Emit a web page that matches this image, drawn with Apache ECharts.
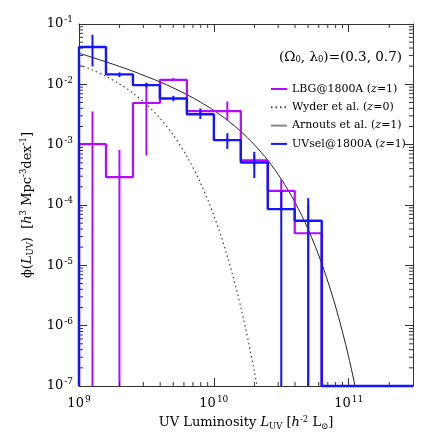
<!DOCTYPE html>
<html>
<head>
<meta charset="utf-8">
<script src="https://cdn.jsdelivr.net/npm/echarts@6/dist/echarts.min.js"></script>
<style>
  html, body { margin: 0; padding: 0; background: #fff; }
  #main { width: 436px; height: 436px; }
</style>
</head>
<body>
<div id="main"></div>
<script>
// luminosity bins, 0.2 dex wide (h^-2 Lsun)
const binEdges = [1e9, 1.585e9, 2.512e9, 3.981e9, 6.310e9, 1e10, 1.585e10, 2.512e10, 3.981e10, 6.310e10];
const binCenters = [1.259e9, 1.995e9, 3.162e9, 5.012e9, 7.943e9, 1.259e10, 1.995e10, 3.162e10, 5.012e10];

// LBG@1800A (z=1)
const lbgPhi = [1.02e-3, 2.9e-4, 4.9e-3, 1.19e-2, 3.6e-3, 3.6e-3, 5.5e-4, 1.72e-4, 3.4e-5];
const lbgErrLow = [1e-9, 1e-9, 6.6e-4, 1.12e-2, 3.3e-3, 2.52e-3, 4.5e-4, 8e-5, 1e-9];
const lbgErrHigh = [3.56e-3, 8.2e-4, 1.05e-2, 1.27e-2, 4.0e-3, 5.2e-3, 6.6e-4, 2.69e-4, 1.0e-4];

// UVsel@1800A (z=1)
const uvPhi = [4.16e-2, 1.46e-2, 9.7e-3, 5.83e-3, 3.2e-3, 1.19e-3, 5.07e-4, 8.55e-5, 5.47e-5];
const uvErrLow = [1.98e-2, 1.32e-2, 8.9e-3, 5.25e-3, 2.66e-3, 8.5e-4, 2.8e-4, 1e-9, 1e-9];
const uvErrHigh = [6.65e-2, 1.58e-2, 1.06e-2, 6.45e-3, 3.89e-3, 1.55e-3, 7.6e-4, 1.73e-4, 1.3e-4];

// curves
const curveL = [1e9, 1.259e9, 1.585e9, 1.995e9, 2.512e9, 3.162e9, 3.981e9, 5.012e9, 6.310e9, 7.943e9,
  1e10, 1.259e10, 1.585e10, 1.995e10, 2.512e10, 3.162e10, 3.981e10, 5.012e10, 6.310e10, 7.943e10, 1e11, 1.259e11];
const arnoutsPhi = [3.28e-2, 2.79e-2, 2.36e-2, 1.98e-2, 1.65e-2, 1.35e-2, 1.10e-2, 8.71e-3, 6.76e-3, 5.09e-3,
  3.69e-3, 2.55e-3, 1.66e-3, 1.0e-3, 5.52e-4, 2.69e-4, 1.13e-4, 3.93e-5, 1.08e-5, 2.19e-6, 3.04e-7, 2.64e-8];
const wyderPhi = [2.11e-2, 1.73e-2, 1.36e-2, 1.02e-2, 7.16e-3, 4.66e-3, 2.75e-3, 1.44e-3, 6.41e-4, 2.35e-4,
  6.75e-5, 1.42e-5, 2.03e-6, 1.77e-7, 8.3e-9];

const xMin = 1e9, xMax = 3e11, yMin = 1e-7, yMax = 1e-1;

const blue = '#1414ff';
const magenta = '#b40aff';
const serif = 'DejaVu Serif';

// minor tick values (2..9 in each decade)
const xMinorTicks = [];
const yMinorTicks = [];
for (let d = 9; d <= 11; d++) for (let k = 2; k <= 9; k++) if (k * Math.pow(10, d) < xMax) xMinorTicks.push(k * Math.pow(10, d));
for (let d = -7; d <= -2; d++) for (let k = 2; k <= 9; k++) yMinorTicks.push(k * Math.pow(10, d));

function stepPath(values) {
  const pts = [[binEdges[0], yMin]];
  values.forEach((v, i) => {
    pts.push([binEdges[i], v], [binEdges[i + 1], v]);
  });
  pts.push([binEdges[binEdges.length - 1], yMin], [xMax, yMin]);
  return pts;
}

function errSeries(name, lo, hi, color, z) {
  return {
    type: 'custom', name: name, z: z, silent: true,
    encode: { x: 0, y: [1, 2] },
    data: binCenters.map((c, i) => [c, lo[i], hi[i]]),
    renderItem: function (params, api) {
      const r = params.coordSys;
      const top = api.coord([api.value(0), api.value(2)]);
      const bot = api.coord([api.value(0), api.value(1)]);
      return {
        type: 'line',
        shape: { x1: top[0], y1: Math.max(top[1], r.y), x2: top[0], y2: Math.min(bot[1], r.y + r.height) },
        style: { stroke: color, lineWidth: 2 }
      };
    }
  };
}

// only label whole decades
const expLabel = v => {
  const e = Math.log10(v);
  if (Math.abs(e - Math.round(e)) > 1e-6) return '';
  return '{b|10}{s|' + Math.round(e) + '}';
};
const labelRich = {
  b: { fontFamily: serif, fontSize: 13, color: '#000' },
  s: { fontFamily: serif, fontSize: 9, color: '#000', verticalAlign: 'top', padding: [0, 0, 8, 1] }
};
const nameRich = {
  n: { fontFamily: serif, fontSize: 13, color: '#000' },
  i: { fontFamily: serif, fontSize: 13, fontStyle: 'italic', color: '#000' },
  sub: { fontFamily: serif, fontSize: 8.5, color: '#000', verticalAlign: 'bottom', padding: [6, 0, 0, 0] },
  sup: { fontFamily: serif, fontSize: 8.5, color: '#000', verticalAlign: 'top', padding: [0, 0, 7, 0] }
};

const axisCommon = {
  type: 'log', logBase: 10,
  axisLine: { show: true, lineStyle: { color: '#333', width: 1 } },
  axisTick: { show: true, inside: true, length: 8, lineStyle: { color: '#333' } },
  splitLine: { show: false },
  minorTick: { show: false }
};

const myChart = echarts.init(document.getElementById('main'));
const option = {
  animation: false,
  backgroundColor: '#fff',
  grid: { left: 79, right: 23, top: 24, bottom: 50 },
  xAxis: [
    Object.assign({}, axisCommon, {
      min: xMin, max: xMax, position: 'bottom',
      axisLabel: { margin: 9, formatter: expLabel, rich: labelRich, showMaxLabel: false },
      name: '{n|UV Luminosity }{i|L}{sub|UV}{n| [}{i|h}{sup|-2}{n| L}{sub|⊙}{n|]}',
      nameLocation: 'middle', nameGap: 29,
      nameTextStyle: { rich: nameRich }
    }),
    Object.assign({}, axisCommon, { min: xMin, max: xMax, position: 'top', axisLabel: { show: false } })
  ],
  yAxis: [
    Object.assign({}, axisCommon, {
      min: yMin, max: yMax, position: 'left',
      axisLabel: { margin: 6, formatter: expLabel, rich: labelRich },
      name: '{n|ϕ(}{i|L}{sub|UV}{n|)  [}{i|h}{sup|3}{n| Mpc}{sup|-3}{n|dex}{sup|-1}{n|]}',
      nameLocation: 'middle', nameGap: 42,
      nameTextStyle: { rich: nameRich }
    }),
    Object.assign({}, axisCommon, { min: yMin, max: yMax, position: 'right', axisLabel: { show: false } })
  ],
  legend: {
    orient: 'vertical', left: 265, top: 78,
    itemWidth: 16, itemHeight: 12, itemGap: 6.3,
    selectedMode: false,
    itemStyle: { opacity: 0 },
    data: [
      { name: 'LBG@1800A (z=1)' },
      { name: 'Wyder et al. (z=0)' },
      { name: 'Arnouts et al. (z=1)', lineStyle: { color: '#888', width: 2 } },
      { name: 'UVsel@1800A (z=1)' }
    ],
    formatter: n => n.replace('(z', '({i|z}'),
    textStyle: {
      fontFamily: serif, fontSize: 11, lineHeight: 12, color: '#000',
      rich: { i: { fontFamily: serif, fontSize: 11, fontStyle: 'italic', color: '#000' } }
    }
  },
  graphic: [{
    type: 'text', right: 34, top: 50,
    style: {
      text: '(Ω{sub|0}, λ{sub|0})=(0.3, 0.7)',
      fontFamily: serif, fontSize: 13.5, fill: '#000',
      rich: { sub: { fontFamily: serif, fontSize: 8.5, fill: '#000', verticalAlign: 'bottom', padding: [6, 0, 0, 0] } }
    }
  }],
  series: [
    {
      name: 'Wyder et al. (z=0)', type: 'line', symbol: 'none', clip: true, z: 2,
      data: wyderPhi.map((v, i) => [curveL[i], v]), smooth: 0.3,
      lineStyle: { color: '#444', width: 1.2, type: [1.5, 3] }
    },
    {
      name: 'Arnouts et al. (z=1)', type: 'line', symbol: 'none', clip: true, z: 2,
      data: arnoutsPhi.map((v, i) => [curveL[i], v]), smooth: 0.3,
      lineStyle: { color: '#222', width: 1 }
    },
    errSeries('lbg-err', lbgErrLow, lbgErrHigh, magenta, 3),
    {
      name: 'LBG@1800A (z=1)', type: 'line', symbol: 'none', clip: false, z: 3,
      data: stepPath(lbgPhi),
      lineStyle: { color: magenta, width: 2.2 }, itemStyle: { color: magenta }
    },
    {
      name: 'UVsel@1800A (z=1)', type: 'line', symbol: 'none', clip: false, z: 4,
      data: stepPath(uvPhi),
      lineStyle: { color: blue, width: 2.4 }, itemStyle: { color: blue }
    },
    errSeries('uv-err', uvErrLow, uvErrHigh, blue, 4),
    {
      type: 'custom', name: 'xminor', silent: true, z: 5,
      data: xMinorTicks.map(v => [v]),
      encode: { x: 0 },
      renderItem: function (params, api) {
        const r = params.coordSys;
        const x = api.coord([api.value(0), yMin])[0];
        return { type: 'group', children: [
          { type: 'line', shape: { x1: x, y1: r.y + r.height, x2: x, y2: r.y + r.height - 4 }, style: { stroke: '#333', lineWidth: 1 } },
          { type: 'line', shape: { x1: x, y1: r.y, x2: x, y2: r.y + 4 }, style: { stroke: '#333', lineWidth: 1 } }
        ] };
      }
    },
    {
      type: 'custom', name: 'yminor', silent: true, z: 5,
      data: yMinorTicks.map(v => [xMin, v]),
      encode: { x: 0, y: 1 },
      renderItem: function (params, api) {
        const r = params.coordSys;
        const y = api.coord([xMin, api.value(1)])[1];
        return { type: 'group', children: [
          { type: 'line', shape: { x1: r.x, y1: y, x2: r.x + 4, y2: y }, style: { stroke: '#333', lineWidth: 1 } },
          { type: 'line', shape: { x1: r.x + r.width, y1: y, x2: r.x + r.width - 4, y2: y }, style: { stroke: '#333', lineWidth: 1 } }
        ] };
      }
    }
  ]
};
myChart.setOption(option);
</script>
</body>
</html>
